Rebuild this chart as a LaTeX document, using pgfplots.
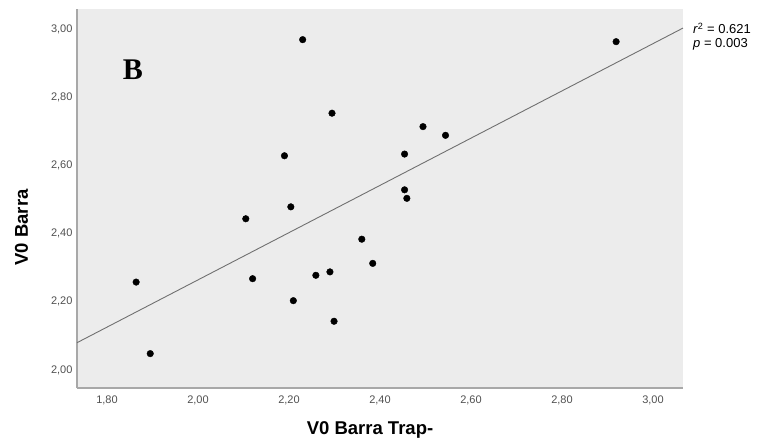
\documentclass[border=0pt]{standalone}
\usepackage{pgfplots}
\pgfplotsset{compat=1.18}
\usepackage{fontspec}
\setmainfont{Liberation Sans}
\newfontfamily\serifB{Liberation Serif}
\definecolor{bggray}{HTML}{ECECEC}
\definecolor{axgray}{HTML}{A8A8A8}
\definecolor{tickgray}{HTML}{505050}
\definecolor{fitgray}{HTML}{707070}
\begin{document}
\begin{tikzpicture}
\useasboundingbox (-77pt,-51pt) rectangle (680pt,388pt);
\begin{axis}[
  at={(0pt,0pt)}, anchor=south west,
  scale only axis, width=606pt, height=379pt,
  xmin=1.734, xmax=3.066, ymin=1.947, ymax=3.06,
  axis background/.style={fill=bggray},
  axis x line*=bottom, axis y line*=left,
  axis line style={draw=axgray, line width=1.3pt, -},
  major tick length=0pt,
  xtick={1.8,2.0,2.2,2.4,2.6,2.8,3.0},
  ytick={2.0,2.2,2.4,2.6,2.8,3.0},
  /pgf/number format/.cd, fixed, fixed zerofill, precision=2, use comma, assume math mode=true,
  /pgfplots/.cd,
  tick label style={font=\fontsize{11}{13}\selectfont, text=tickgray},
  xticklabel style={yshift=-4pt},
  yticklabel style={xshift=-1pt},
  clip=false,
]
\addplot[fitgray, line width=0.9pt] coordinates {(1.734,2.080) (3.066,3.004)};
\addplot[only marks, mark=*, mark size=3.3pt, black] coordinates {
(1.864,2.258) (1.895,2.048) (2.105,2.444) (2.120,2.268) (2.190,2.629)
(2.204,2.479) (2.2095,2.2035) (2.230,2.970) (2.259,2.278) (2.290,2.288)
(2.2945,2.754) (2.299,2.143) (2.360,2.384) (2.384,2.313) (2.454,2.634)
(2.454,2.529) (2.459,2.504) (2.4945,2.7146) (2.544,2.689) (2.919,2.964)
};
\end{axis}
\node at (56pt,318pt) {\serifB\fontsize{30}{34}\selectfont\bfseries B};
\node[anchor=base west, inner sep=0pt] at (616pt,354pt) {\fontsize{13}{15}\selectfont\textit{r}\textsuperscript{2} = 0.621};
\node[anchor=base west, inner sep=0pt] at (616pt,340pt) {\fontsize{13}{15}\selectfont\textit{p} = 0.003};
\node at (293pt,-41.5pt) {\fontsize{18.5}{22}\selectfont\bfseries V0 Barra Trap-};
\node[rotate=90] at (-55.5pt,160.5pt) {\fontsize{18.5}{22}\selectfont\bfseries V0 Barra};
\end{tikzpicture}
\end{document}
